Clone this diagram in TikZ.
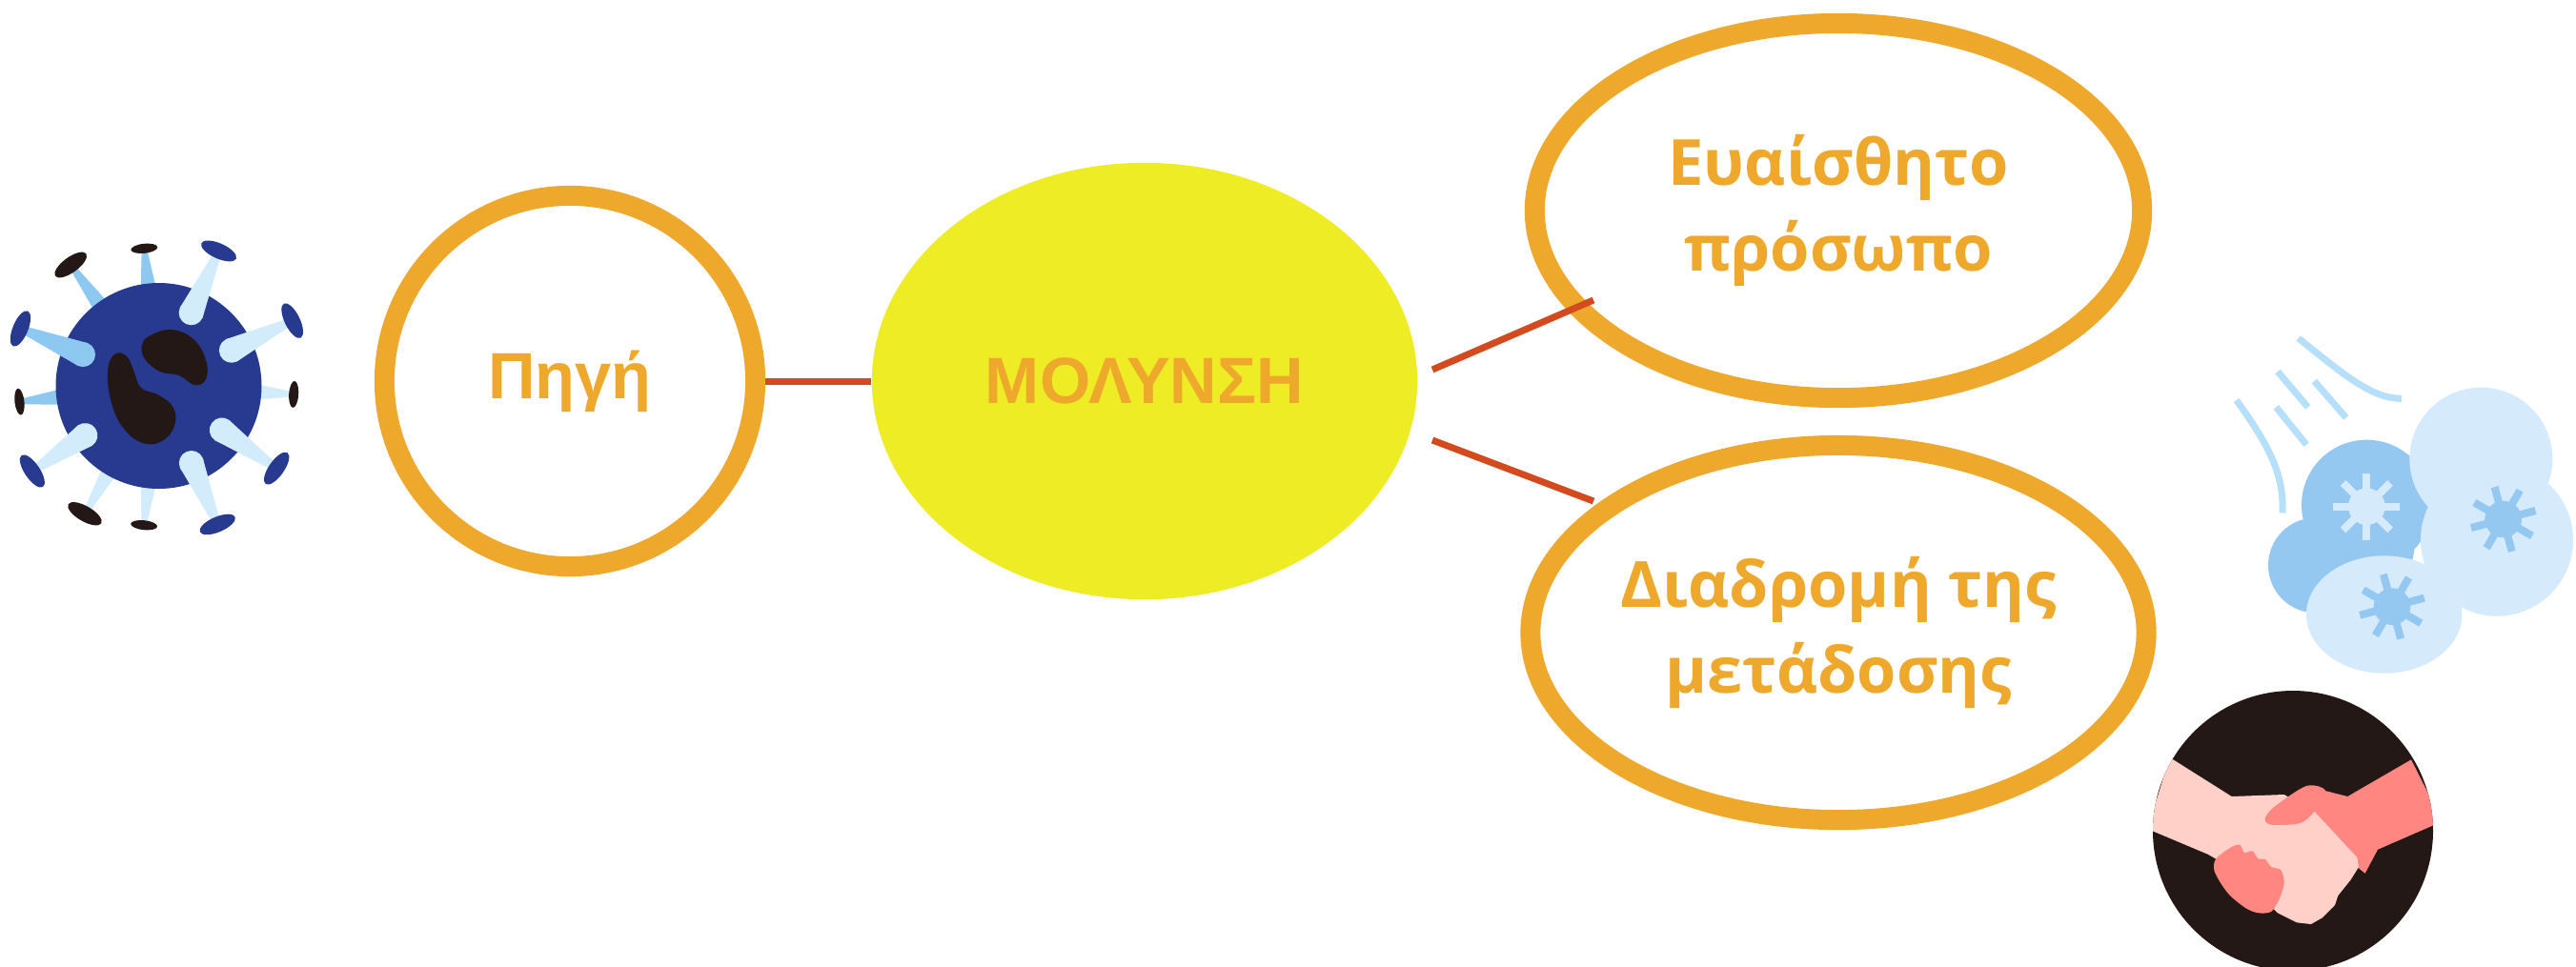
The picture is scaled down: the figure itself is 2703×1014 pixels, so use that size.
\documentclass[tikz,border=0pt]{standalone}
\usepackage{fontspec}
\usetikzlibrary{shapes.geometric}
\newfontfamily\arialish{Liberation Sans}
\newfontfamily\humanist{Open Sans}

\definecolor{ringorange}{HTML}{EEA92D}
\definecolor{linkred}{HTML}{D44A1F}
\definecolor{sunyellow}{HTML}{EEEC24}
\definecolor{virusnavy}{HTML}{283A8F}
\definecolor{virusdark}{HTML}{231815}
\definecolor{spikelight}{HTML}{D3ECFB}
\definecolor{spikemid}{HTML}{8DC8F0}
\definecolor{cloudlight}{HTML}{D5EBFB}
\definecolor{cloudmid}{HTML}{94C8F0}
\definecolor{breeze}{HTML}{B6DFFA}
\definecolor{handlight}{HTML}{FFD0C7}
\definecolor{handdark}{HTML}{FF8681}

\tikzset{
  orangering/.style={draw=ringorange, line width=0.21cm, fill=white, inner sep=0pt, text=ringorange},
  link/.style={draw=linkred, line width=0.07cm},
  leftlabel/.style={font=\arialish\bfseries\fontsize{19.5}{24}\selectfont},
  rightlabel/.style={font=\humanist\bfseries\fontsize{19}{25.6}\selectfont, align=center},
  breezeline/.style={draw=breeze, line width=0.07cm},
}

\begin{document}
\begin{tikzpicture}[x=0.01cm, y=-0.01cm]
\useasboundingbox (0,0) rectangle (2703,1014);
\fill[white] (0,0) rectangle (2703,1014);

% ---------- virus ----------
\begin{scope}[shift={(166.5,405)}, yscale=-1]
  % thin stems behind the body
  \foreach \a/\t/\c in {96/147/spikelight, 120/155/spikelight, 173.5/147/spikemid,
                        3.6/142/spikelight, -126/157/spikemid, -96/145/spikemid}{
    \fill[\c, rotate=\a] (88,10) -- (\t-3,3) -- (\t-3,-3) -- (88,-10) -- cycle;
  }
  \fill[virusnavy] (0,0) circle[radius=108];
  % wide stems with rounded feet
  \foreach \a/\t/\d/\c in {67/158/88/spikelight, 146/160/93/spikelight, 35/151/81/spikelight,
                           202.5/157/86/spikemid, -26/156/85/spikelight, -66/155/84/spikelight}{
    \fill[\c, rotate=\a] (\d,13) -- (\t-3,4) -- (\t-3,-4) -- (\d,-13) -- cycle;
    \fill[\c, rotate=\a] (\d,0) circle[radius=13];
  }
  % spike heads
  \foreach \a/\t/\c/\ra/\rb in {96/147/virusdark/14/5, 120/155/virusdark/20/8,
      173.5/147/virusdark/14/5, 3.6/142/virusdark/14/5, -126/157/virusdark/20/8,
      -96/145/virusdark/14/5, 67/158/virusnavy/20/8, 146/160/virusnavy/20/8,
      35/151/virusnavy/20/8, 202.5/157/virusnavy/20/8, -26/156/virusnavy/20/8,
      -66/155/virusnavy/20/8}{
    \fill[\c, rotate=\a] (\t,0) ellipse[x radius=\rb, y radius=\ra];
  }
\end{scope}
% nucleus
\fill[virusdark] plot[smooth cycle, tension=0.7] coordinates {(158,352) (180,346) (203,356)
  (216,378) (216,398) (204,404) (188,394) (168,390) (152,377) (149,362)};
\fill[virusdark] plot[smooth cycle, tension=0.7] coordinates {(120,372) (133,374) (141,391)
  (148,407) (167,415) (182,428) (183,447) (170,463) (150,465) (130,450)
  (117,423) (113,390)};

% ---------- diagram nodes ----------
\node[orangering, circle, minimum size=3.89cm, leftlabel] (pigi) at (598,400) {Πηγή};
\node[ellipse, fill=sunyellow, minimum width=5.72cm, minimum height=4.58cm, inner sep=0pt,
      text=ringorange, leftlabel] (molynsi) at (1201,400) {ΜΟΛΥΝΣΗ};
\node[orangering, ellipse, minimum width=6.37cm, minimum height=3.93cm, rightlabel]
      (evaisthito) at (1929,221) {Ευαίσθητο\\πρόσωπο};
\node[orangering, ellipse, minimum width=6.37cm, minimum height=3.93cm, rightlabel]
      (diadromi) at (1929,664) {Διαδρομή της\\μετάδοσης};

% ---------- connectors ----------
\draw[link] (pigi) -- (molynsi);
\coordinate (upA) at (1503,388);
\coordinate (upB) at (1672,315);
\coordinate (loA) at (1503,462);
\coordinate (loB) at (1672,526);
\draw[link] (upA) -- (upB);
\draw[link] (loA) -- (loB);

% ---------- cough cloud ----------
\begin{scope}[shift={(2330,340)}, scale=1/3]
  \draw[breezeline] (245,45) .. controls (400,170) and (480,235) .. (570,235);
  \draw[breezeline] (180,150) -- (275,262);
  \draw[breezeline] (295,180) -- (395,295);
  \draw[breezeline] (175,262) -- (270,380);
  \draw[breezeline] (50,240) .. controls (150,380) and (200,470) .. (195,595);
  \fill[cloudmid] (460,570) circle[radius=205];
  \fill[cloudmid] (300,760) circle[radius=150];
  \fill[cloudmid] (460,700) circle[radius=150];
  \fill[cloudlight] (820,425) circle[radius=225];
  \fill[cloudlight] (870,680) circle[radius=240];
  \fill[cloudlight] (515,915) ellipse[x radius=245, y radius=185];
  \fill[cloudlight] (680,560) rectangle (800,880);
  \foreach \px/\py/\c/\r in {460/575/cloudlight/0, 890/615/cloudmid/15, 540/890/cloudmid/15}{
    \begin{scope}[shift={(\px,\py)}, rotate=\r]
      \fill[\c] (0,0) circle[radius=58];
      \foreach \k in {0,45,...,315}{
        \fill[\c, rotate=\k] (40,-12) rectangle (105,12);
      }
    \end{scope}
  }
\end{scope}

% ---------- handshake ----------
\begin{scope}[shift={(2240,710)}, scale=1/3]
  \fill[virusdark] (498,486) circle[radius=441];
  \begin{scope}
    \clip (498,486) circle[radius=441];
    \fill[handdark] (870,262) -- (960,440) -- (960,460) -- (765,545) -- (725,620)
      -- (650,560) -- (565,430) -- (540,345) -- (670,378) -- cycle;
    \fill[handlight] (110,255) -- (305,378) -- (470,372) -- (565,425) -- (700,570)
      -- (705,600) -- (680,640) -- (640,690) -- (630,720) -- (590,760) -- (555,780)
      -- (510,775) -- (450,745) -- (300,600) -- (230,560) -- (40,480) -- cycle;
    \fill[handdark] plot[smooth cycle, tension=0.5] coordinates {(410,448) (440,410)
      (540,345) (600,360) (565,425) (520,462) (430,467)};
    \fill[handdark] plot[smooth cycle, tension=0.5] coordinates {(255,575) (300,540)
      (330,530) (345,555) (370,550) (390,575) (410,575) (430,600) (460,610) (470,650)
      (455,700) (430,740) (390,745) (350,730) (300,690) (270,650) (250,610)};
  \end{scope}
\end{scope}
\end{tikzpicture}
\end{document}
